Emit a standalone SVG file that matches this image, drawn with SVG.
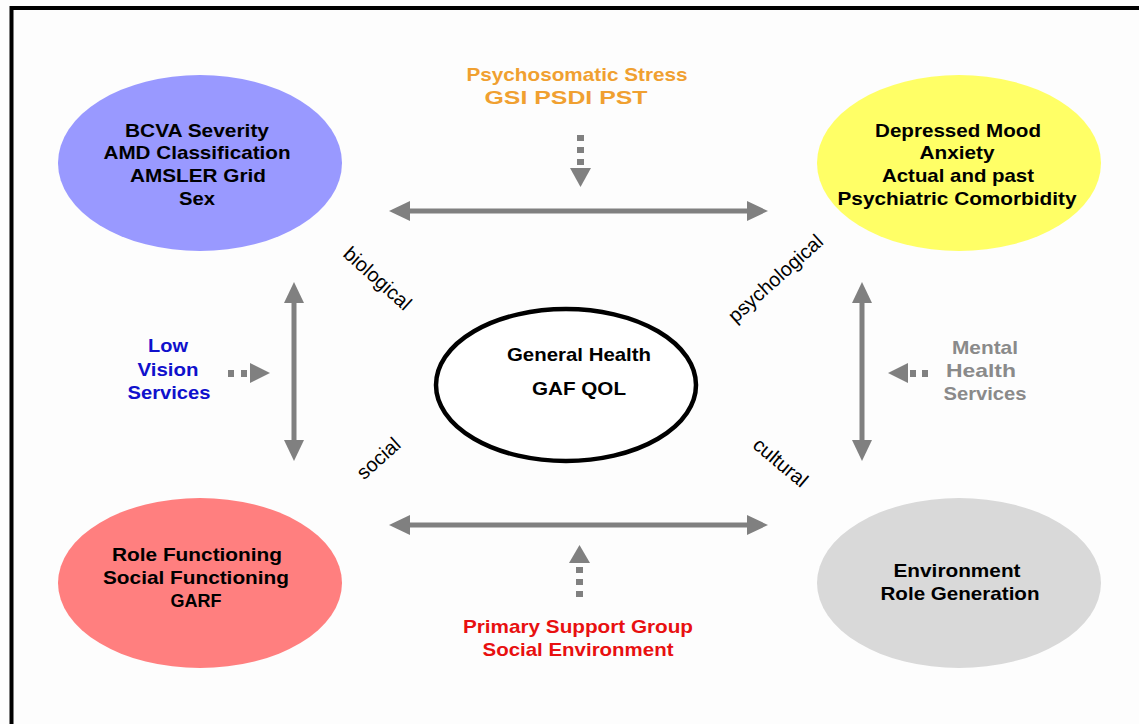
<svg xmlns="http://www.w3.org/2000/svg" width="1139" height="724" viewBox="0 0 1139 724">
  <style>
    .lbl { font-family: "Liberation Sans", Arial, sans-serif; font-weight: bold; font-size: 18.5px; text-anchor: middle; }
    .rot { font-family: "Liberation Sans", Arial, sans-serif; font-size: 20px; text-anchor: middle; fill: #000; }
    .axis { stroke: #808080; stroke-width: 5; fill: none; }
    .head { fill: #808080; }
  </style>
  <rect width="1139" height="724" fill="#fdfdfd"/>
  <!-- frame -->
  <path d="M11.5,724 V8 H1139" fill="none" stroke="#000" stroke-width="4"/>

  <!-- connectors -->
  <g id="connectors">
    <!-- top horizontal double arrow -->
    <line class="axis" x1="405" y1="211" x2="752" y2="211"/>
    <polygon class="head" points="389,211 410,201 410,221"/>
    <polygon class="head" points="768,211 747,201 747,221"/>
    <!-- bottom horizontal double arrow -->
    <line class="axis" x1="405" y1="525" x2="752" y2="525"/>
    <polygon class="head" points="389,525 410,515 410,535"/>
    <polygon class="head" points="768,525 747,515 747,535"/>
    <!-- left vertical double arrow -->
    <line class="axis" x1="294" y1="298" x2="294" y2="445"/>
    <polygon class="head" points="294,282 284,303 304,303"/>
    <polygon class="head" points="294,461 284,440 304,440"/>
    <!-- right vertical double arrow -->
    <line class="axis" x1="862" y1="298" x2="862" y2="445"/>
    <polygon class="head" points="862,282 852,303 872,303"/>
    <polygon class="head" points="862,461 852,440 872,440"/>

    <!-- dotted arrow from top -->
    <rect class="head" x="577" y="135" width="7" height="6"/>
    <rect class="head" x="577" y="147" width="7" height="6"/>
    <rect class="head" x="577" y="159" width="7" height="6"/>
    <polygon class="head" points="570,168 591,168 580.5,187"/>
    <!-- dotted arrow from bottom -->
    <rect class="head" x="576" y="567" width="7" height="6"/>
    <rect class="head" x="576" y="579" width="7" height="6"/>
    <rect class="head" x="576" y="591" width="7" height="6"/>
    <polygon class="head" points="569,563 590,563 579.5,545"/>
    <!-- dotted arrow from left -->
    <rect class="head" x="228" y="370" width="6" height="7"/>
    <rect class="head" x="241" y="370" width="6" height="7"/>
    <polygon class="head" points="250,363 250,383 270,373"/>
    <!-- dotted arrow from right -->
    <rect class="head" x="910" y="370" width="6" height="7"/>
    <rect class="head" x="922" y="370" width="6" height="7"/>
    <polygon class="head" points="908,363 908,383 888,373"/>
  </g>

  <!-- biological node -->
  <g id="node-biological">
    <ellipse cx="200" cy="163" rx="142" ry="88" fill="#9999ff"/>
    <text class="lbl" fill="#000"><tspan x="197" y="137" textLength="144" lengthAdjust="spacingAndGlyphs">BCVA Severity</tspan></text>
    <text class="lbl" fill="#000"><tspan x="197" y="159" textLength="187" lengthAdjust="spacingAndGlyphs">AMD Classification</tspan></text>
    <text class="lbl" fill="#000"><tspan x="198" y="182" textLength="136" lengthAdjust="spacingAndGlyphs">AMSLER Grid</tspan></text>
    <text class="lbl" fill="#000"><tspan x="197" y="205" textLength="36" lengthAdjust="spacingAndGlyphs">Sex</tspan></text>
  </g>

  <!-- psychological node -->
  <g id="node-psychological">
    <ellipse cx="959" cy="163" rx="142" ry="88" fill="#ffff66"/>
    <text class="lbl" fill="#000"><tspan x="958" y="137" textLength="166" lengthAdjust="spacingAndGlyphs">Depressed Mood</tspan></text>
    <text class="lbl" fill="#000"><tspan x="957" y="159" textLength="75" lengthAdjust="spacingAndGlyphs">Anxiety</tspan></text>
    <text class="lbl" fill="#000"><tspan x="958" y="182" textLength="152" lengthAdjust="spacingAndGlyphs">Actual and past</tspan></text>
    <text class="lbl" fill="#000"><tspan x="957" y="205" textLength="239" lengthAdjust="spacingAndGlyphs">Psychiatric Comorbidity</tspan></text>
  </g>

  <!-- social node -->
  <g id="node-social">
    <ellipse cx="200" cy="583" rx="142" ry="85" fill="#ff7f7f"/>
    <text class="lbl" fill="#000"><tspan x="197" y="561" textLength="170" lengthAdjust="spacingAndGlyphs">Role Functioning</tspan></text>
    <text class="lbl" fill="#000"><tspan x="196" y="584" textLength="186" lengthAdjust="spacingAndGlyphs">Social Functioning</tspan></text>
    <text class="lbl" fill="#000"><tspan x="196" y="607" textLength="51" lengthAdjust="spacingAndGlyphs">GARF</tspan></text>
  </g>

  <!-- cultural node -->
  <g id="node-cultural">
    <ellipse cx="959" cy="583" rx="142" ry="85" fill="#d9d9d9"/>
    <text class="lbl" fill="#000"><tspan x="957" y="577" textLength="127" lengthAdjust="spacingAndGlyphs">Environment</tspan></text>
    <text class="lbl" fill="#000"><tspan x="960" y="600" textLength="159" lengthAdjust="spacingAndGlyphs">Role Generation</tspan></text>
  </g>

  <!-- central node -->
  <g id="node-general-health">
    <ellipse cx="566" cy="385" rx="130" ry="76" fill="#fff" stroke="#000" stroke-width="4.5"/>
    <text class="lbl" fill="#000" font-size="17.5"><tspan x="579" y="361" textLength="144" lengthAdjust="spacingAndGlyphs">General Health</tspan></text>
    <text class="lbl" fill="#000" font-size="17.5"><tspan x="579" y="395" textLength="94" lengthAdjust="spacingAndGlyphs">GAF QOL</tspan></text>
  </g>

  <!-- external influences -->
  <g id="node-psychosomatic-stress">
    <text class="lbl" fill="#f0a030"><tspan x="577" y="81" textLength="221" lengthAdjust="spacingAndGlyphs">Psychosomatic Stress</tspan></text>
    <text class="lbl" fill="#f0a030"><tspan x="566" y="104" textLength="163" lengthAdjust="spacingAndGlyphs">GSI PSDI PST</tspan></text>
  </g>
  <g id="node-support-group">
    <text class="lbl" fill="#e81010"><tspan x="578" y="633" textLength="230" lengthAdjust="spacingAndGlyphs">Primary Support Group</tspan></text>
    <text class="lbl" fill="#e81010"><tspan x="578" y="656" textLength="191" lengthAdjust="spacingAndGlyphs">Social Environment</tspan></text>
  </g>
  <g id="node-low-vision">
    <text class="lbl" fill="#1010cc"><tspan x="168" y="352" textLength="40" lengthAdjust="spacingAndGlyphs">Low</tspan></text>
    <text class="lbl" fill="#1010cc"><tspan x="168" y="376" textLength="61" lengthAdjust="spacingAndGlyphs">Vision</tspan></text>
    <text class="lbl" fill="#1010cc"><tspan x="169" y="399" textLength="83" lengthAdjust="spacingAndGlyphs">Services</tspan></text>
  </g>
  <g id="node-mental-health">
    <text class="lbl" fill="#8a8a8a"><tspan x="985" y="354" textLength="66" lengthAdjust="spacingAndGlyphs">Mental</tspan></text>
    <text class="lbl" fill="#8a8a8a"><tspan x="981" y="377" textLength="70" lengthAdjust="spacingAndGlyphs">Health</tspan></text>
    <text class="lbl" fill="#8a8a8a"><tspan x="985" y="400" textLength="83" lengthAdjust="spacingAndGlyphs">Services</tspan></text>
  </g>

  <!-- dimension labels -->
  <g id="dimension-labels">
    <text class="rot" transform="translate(377,279) rotate(42)" y="6">biological</text>
    <text class="rot" transform="translate(776,279) rotate(-42)" y="6">psychological</text>
    <text class="rot" transform="translate(379,459) rotate(-42)" y="6">social</text>
    <text class="rot" transform="translate(780,463) rotate(40)" y="6">cultural</text>
  </g>
</svg>
